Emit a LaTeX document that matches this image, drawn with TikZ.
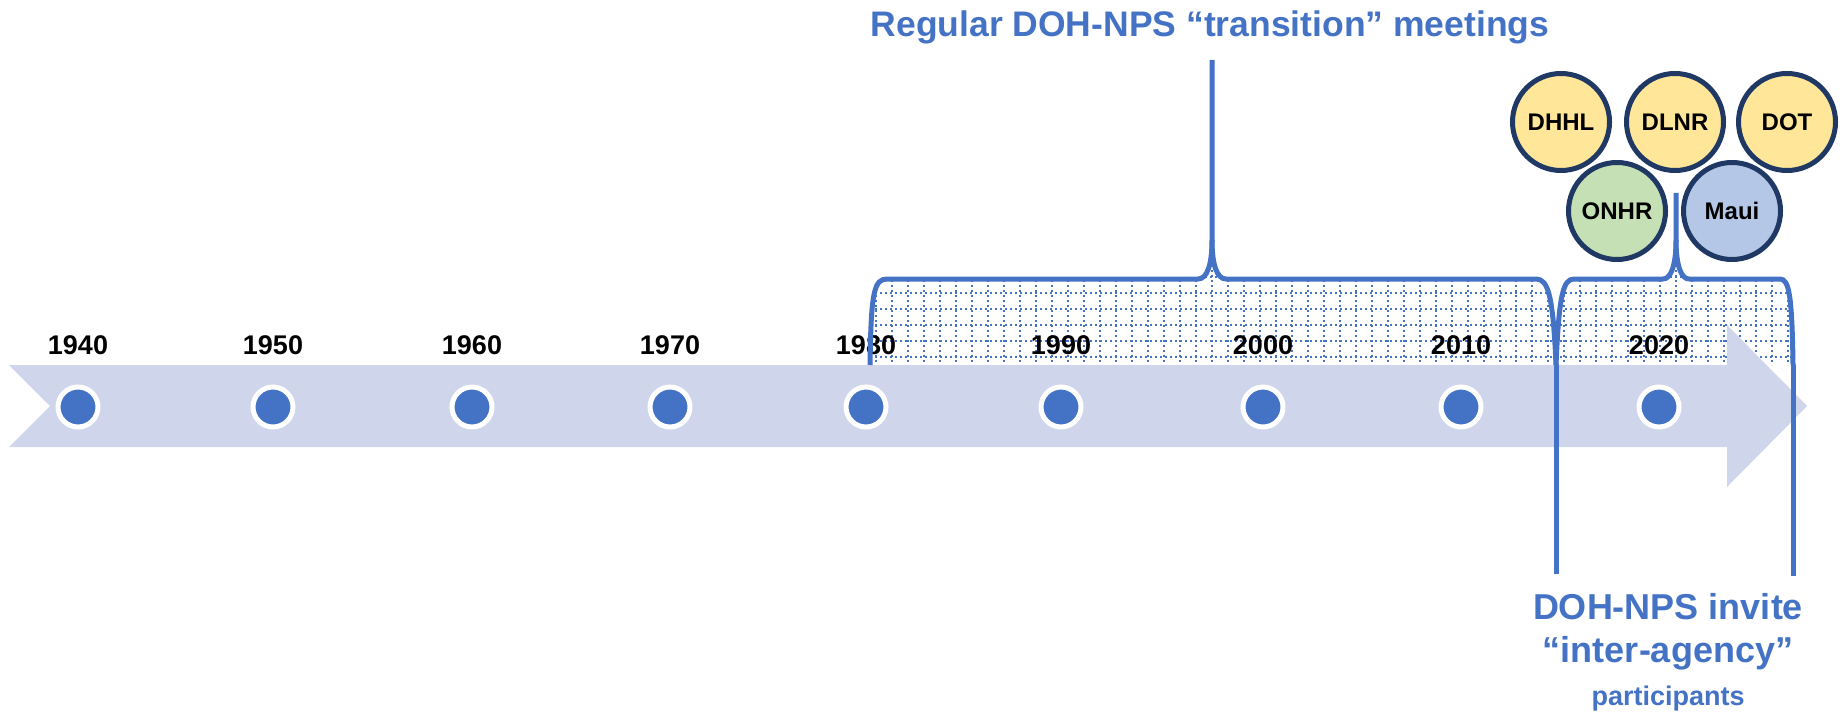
\documentclass[tikz,border=0pt]{standalone}
\usepackage{fontspec}
\setmainfont{Liberation Sans}
\usetikzlibrary{positioning, calc}
\definecolor{accent}{HTML}{4472C4}
\definecolor{bandcol}{HTML}{CFD5EA}
\definecolor{navy}{HTML}{1F3864}
\definecolor{agyellow}{HTML}{FFE699}
\definecolor{aggreen}{HTML}{C5E0B4}
\definecolor{agblue}{HTML}{B4C7E7}
\tikzset{
    yeardot/.style={circle, fill=accent, draw=white, line width=5pt, minimum size=40pt, inner sep=0pt},
    yearlabel/.style={inner sep=0pt, font=\bfseries\fontsize{27}{30}\selectfont},
    agency/.style={circle, draw=navy, line width=5pt, minimum size=97pt, inner sep=0pt, font=\bfseries\fontsize{24}{28}\selectfont},
    bracket/.style={draw=accent, line width=5pt, line join=round},
    hatch/.style={accent, line width=2pt, dash pattern=on 2pt off 3pt},
    title label/.style={text=accent, inner sep=0pt, anchor=base, font=\bfseries\fontsize{35.5}{40}\selectfont},
    note label/.style={text=accent, inner sep=0pt, anchor=base, align=center, font=\bfseries\fontsize{36}{43}\selectfont}
}

\begin{document}
\begin{tikzpicture}[x=1pt, y=-1pt]
    \useasboundingbox (0,0) rectangle (1843,714);

    % --- Hatched periods ---
    \begin{scope}
        \clip (870,365) .. controls (871,292) and (874,279) .. (887,279) -- (1198,279)
            .. controls (1207,279) and (1212,265) .. (1212,240)
            .. controls (1212,265) and (1217,279) .. (1226,279) -- (1536,279)
            .. controls (1548,279) and (1553,295) .. (1556,365) -- cycle
            (1556,365) .. controls (1559,295) and (1563,279) .. (1574,279) -- (1663,279)
            .. controls (1671,279) and (1676,265) .. (1676,240)
            .. controls (1676,265) and (1681,279) .. (1689,279) -- (1780,279)
            .. controls (1789,279) and (1792,295) .. (1793,365) -- cycle;
        \foreach \y in {277,293,...,357}
            \draw[hatch] (860,\y) -- (1800,\y);
        \foreach \x in {876,892,...,1800}
            \draw[hatch] (\x,190) -- (\x,365);
    \end{scope}

    % --- Timeline band ---
    \fill[bandcol] (9,365) -- (1727,365) -- (1727,325) -- (1807,406) -- (1727,487)
        -- (1727,447) -- (9,447) -- (50,406) -- cycle;

    % --- Decades ---
    \foreach \x/\yr in {78/1940, 273/1950, 472/1960, 670/1970, 866/1980, 1061/1990, 1263/2000, 1461/2010, 1659/2020} {
        \node (d\yr) [yeardot] at (\x,407) {};
        \node (l\yr) [yearlabel, above=30pt of d\yr] {\yr};
    }

    % --- Brackets ---
    \coordinate (spikeA) at (1212,240);
    \coordinate (spikeB) at (1676,240);
    \coordinate (splitTop) at (1556,365);
    \coordinate (endTop) at (1793,365);
    \draw[bracket] (870,365) .. controls (871,292) and (874,279) .. (887,279) -- (1198,279)
        .. controls (1207,279) and (1212,265) .. (spikeA) -- (1212,60);
    \draw[bracket] (spikeA) .. controls (1212,265) and (1217,279) .. (1226,279) -- (1536,279)
        .. controls (1548,279) and (1553,295) .. (splitTop);
    \draw[bracket] (splitTop) .. controls (1559,295) and (1563,279) .. (1574,279) -- (1663,279)
        .. controls (1671,279) and (1676,265) .. (spikeB) -- (1676,193);
    \draw[bracket] (spikeB) .. controls (1676,265) and (1681,279) .. (1689,279) -- (1780,279)
        .. controls (1789,279) and (1792,295) .. (endTop);
    \draw[bracket] (splitTop) -- (1556,574);
    \draw[bracket] (endTop) -- (1793,576);

    % --- Agencies ---
    \node (dhhl) [agency, fill=agyellow] at (1561,122) {DHHL};
    \node (dlnr) [agency, fill=agyellow] at (1675,122) {DLNR};
    \node (dot) [agency, fill=agyellow] at (1787,122) {DOT};
    \node (onhr) [agency, fill=aggreen] at (1617,211) {ONHR};
    \node (maui) [agency, fill=agblue] at (1732,211) {Maui};

    % --- Labels ---
    \node (ttl) [title label] at (1210,37) {Regular DOH-NPS “transition” meetings};
    \node (invite) [note label] at (1668,705) {DOH-NPS invite\\“inter-agency”\\{\fontsize{27}{43}\selectfont participants}};
\end{tikzpicture}
\end{document}
